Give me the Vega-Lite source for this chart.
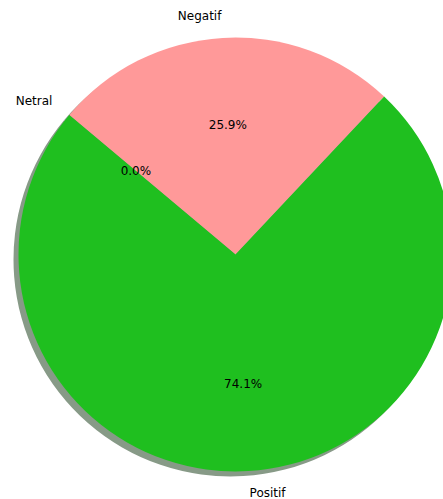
{
  "$schema": "https://vega.github.io/schema/vega-lite/v6.json",
  "width": 443,
  "height": 499,
  "autosize": {"type": "fit", "contains": "padding"},
  "padding": {"left": 27, "right": 0, "top": 10, "bottom": 0},
  "background": "white",
  "data": {
    "values": [
      {"label": "Negatif", "share": 0.259, "rank": 1},
      {"label": "Positif", "share": 0.741, "rank": 2},
      {"label": "Netral", "share": 0.0, "rank": 3}
    ]
  },
  "encoding": {
    "theta": {
      "field": "share",
      "type": "quantitative",
      "stack": true,
      "scale": {"domain": [0, 1], "range": [-0.8727, 5.4105]}
    },
    "order": {"field": "rank", "type": "quantitative"}
  },
  "layer": [
    {
      "mark": {
        "type": "arc",
        "outerRadius": 217,
        "x": {"expr": "width/2-5"},
        "y": {"expr": "height/2+5"},
        "fill": "#879a87"
      },
      "encoding": {"detail": {"field": "label", "type": "nominal"}}
    },
    {
      "mark": {"type": "arc", "outerRadius": 217},
      "encoding": {
        "color": {
          "field": "label",
          "type": "nominal",
          "sort": ["Negatif", "Positif", "Netral"],
          "scale": {
            "domain": ["Negatif", "Positif", "Netral"],
            "range": ["#ff9999", "#1fbf1f", "#66b3ff"]
          },
          "legend": null
        }
      }
    },
    {
      "mark": {
        "type": "text",
        "radius": 239,
        "align": "right",
        "baseline": "middle",
        "font": "DejaVu Sans",
        "fontSize": 12,
        "color": "black"
      },
      "encoding": {
        "detail": {"field": "label", "type": "nominal"},
        "text": {
          "condition": {"test": "datum.label !== 'Positif'", "field": "label"},
          "value": ""
        }
      }
    },
    {
      "mark": {
        "type": "text",
        "radius": 239,
        "align": "left",
        "baseline": "middle",
        "font": "DejaVu Sans",
        "fontSize": 12,
        "color": "black"
      },
      "encoding": {
        "detail": {"field": "label", "type": "nominal"},
        "text": {
          "condition": {"test": "datum.label === 'Positif'", "field": "label"},
          "value": ""
        }
      }
    },
    {
      "mark": {
        "type": "text",
        "radius": 130,
        "align": "center",
        "baseline": "middle",
        "font": "DejaVu Sans",
        "fontSize": 12,
        "color": "black"
      },
      "encoding": {
        "detail": {"field": "label", "type": "nominal"},
        "text": {"field": "share", "type": "quantitative", "format": ".1%"}
      }
    }
  ],
  "config": {"view": {"stroke": null}}
}
